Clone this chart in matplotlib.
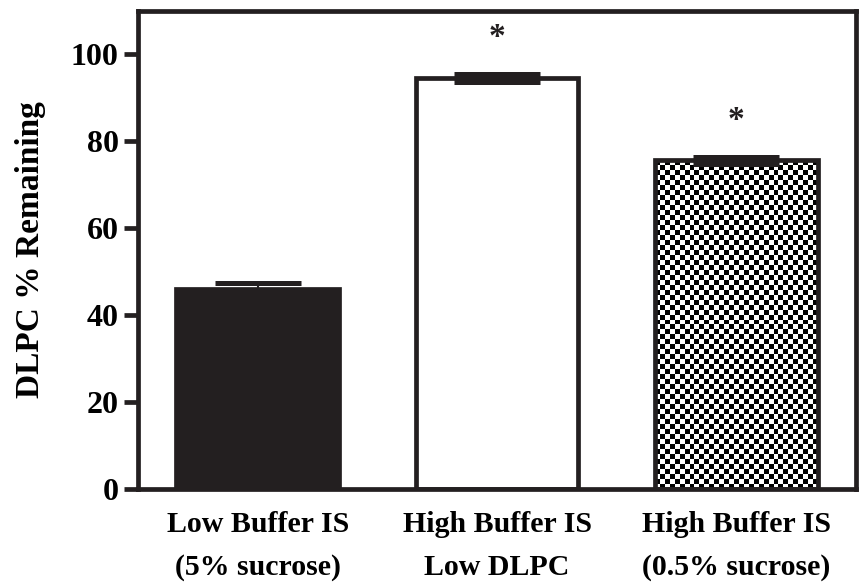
import numpy as np
import matplotlib.pyplot as plt

plt.rcParams['font.family'] = ['Liberation Serif', 'DejaVu Serif']
plt.rcParams['font.weight'] = 'bold'

# Group labels and DLPC recovery (mean, SEM)
groups = ["Low Buffer IS\n(5% sucrose)", "High Buffer IS\nLow DLPC", "High Buffer IS\n(0.5% sucrose)"]
means = [46.0, 94.6, 75.7]
sems = [1.3, 1.0, 0.8]
significant = [False, True, True]
yticks = [0, 20, 40, 60, 80, 100]

x = np.arange(len(groups))
lw = 3.4

fig = plt.figure(figsize=(8.66, 5.88), dpi=100)
ax = fig.add_axes([0.1594, 0.1684, 0.8291, 0.8129])

bars = ax.bar(x, means, width=0.68, color=['#231f20', 'white', 'none'],
              edgecolor='#231f20', linewidth=lw, zorder=2)

# checkerboard fill for the third bar
rows, cols = 66, 33
checker = np.indices((rows, cols)).sum(axis=0) % 2
b = bars[2]
im = ax.imshow(checker, cmap='gray', interpolation='nearest', aspect='auto',
               extent=[b.get_x(), b.get_x() + b.get_width(), 0, b.get_height()],
               zorder=1)
im.set_clip_path(b)

ax.errorbar(x, means, yerr=sems, fmt='none', ecolor='#231f20', elinewidth=1.5,
            capsize=31, capthick=3.6, zorder=3)

for xi, m, s, sig in zip(x, means, sems, significant):
    if sig:
        ax.text(xi, m + s + 8.3, '*', ha='center', va='center', fontsize=24,
                fontweight='bold', color='#231f20')

ax.set_xlim(-0.5, 2.5)
ax.set_ylim(0, 110)
ax.set_yticks(yticks)
ax.set_xticks(x)
ax.set_xticklabels(groups, fontsize=21.5, fontweight='bold', linespacing=1.75)
ax.tick_params(axis='x', length=0, pad=16)
ax.tick_params(axis='y', length=10, width=lw, labelsize=23, pad=4, color='#231f20')
ax.set_ylabel("DLPC % Remaining", fontsize=24, fontweight='bold', labelpad=18)

for sp in ax.spines.values():
    sp.set_linewidth(lw)
    sp.set_color('#231f20')

fig.savefig("out.png", dpi=100)
